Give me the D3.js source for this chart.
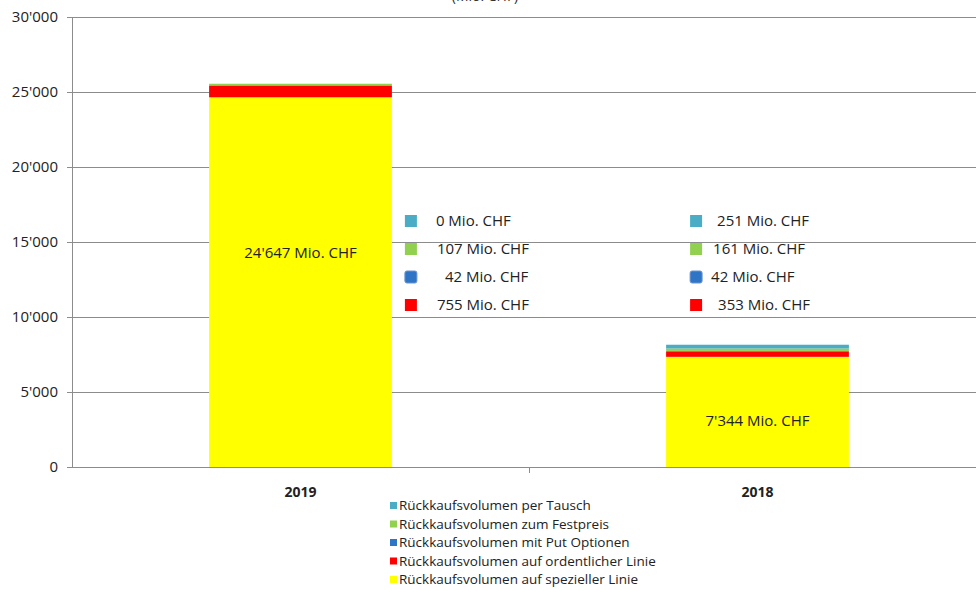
<!DOCTYPE html>
<html>
<head>
<meta charset="utf-8">
<script src="https://cdn.jsdelivr.net/npm/d3@7"></script>
<style>
  body { margin: 0; background: #fff; }
  text { font-family: "Open Sans", "DejaVu Sans", sans-serif; }
</style>
</head>
<body>
<div id="chart"></div>
<script>
// Data
const years = ['2019', '2018']
const seriesNames = [
  'Rückkaufsvolumen auf spezieller Linie',
  'Rückkaufsvolumen auf ordentlicher Linie',
  'Rückkaufsvolumen mit Put Optionen',
  'Rückkaufsvolumen zum Festpreis',
  'Rückkaufsvolumen per Tausch'
]
const spezielleLinie = [24647, 7344]
const ordentlicheLinie = [755, 353]
const putOptionen = [42, 42]
const festpreis = [107, 161]
const tausch = [0, 251]
const yTicks = [0, 5000, 10000, 15000, 20000, 25000, 30000]

const colors = ['#ffff00', '#ff0000', '#2e75c6', '#92d050', '#4bacc6']

// Dimensions
let dimensions = {
  width: 976,
  height: 590,
  margin: { top: 17, bottom: 123, left: 72, right: -10 }
}
dimensions.ctrWidth = dimensions.width - dimensions.margin.left - dimensions.margin.right
dimensions.ctrHeight = dimensions.height - dimensions.margin.top - dimensions.margin.bottom

const svg = d3.select('#chart')
  .append('svg')
  .attr('width', dimensions.width)
  .attr('height', dimensions.height)

// title, cut by the top edge as in the source
svg.append('text')
  .attr('x', 485).attr('y', 1)
  .attr('text-anchor', 'middle')
  .style('font-size', '14px')
  .attr('fill', '#333')
  .text('(Mio. CHF)')

const ctr = svg.append('g')
  .attr('transform', `translate(${dimensions.margin.left}, ${dimensions.margin.top})`)

const locale = d3.formatLocale({ decimal: '.', thousands: "'", grouping: [3], currency: ['', ''] })
const fmt = locale.format(',d')

// Scales
const xScale = d3.scaleBand()
  .domain(years)
  .range([0, dimensions.ctrWidth])
  .paddingInner(0.6)
  .paddingOuter(0.3)

const yScale = d3.scaleLinear()
  .domain([0, 30000])
  .range([dimensions.ctrHeight, 0])

// Gridlines
ctr.append('g')
  .selectAll('line')
  .data(yTicks.slice(1))
  .join('line')
  .attr('x1', -5)
  .attr('x2', dimensions.width)
  .attr('y1', d => yScale(d) + 0.5)
  .attr('y2', d => yScale(d) + 0.5)
  .attr('stroke', '#8c8c8c')

// y axis
const yAxis = d3.axisLeft(yScale).tickValues(yTicks).tickFormat(fmt).tickSize(5).tickPadding(9)
const yAxisG = ctr.append('g').call(yAxis)
yAxisG.select('.domain').attr('stroke', '#8c8c8c')
yAxisG.selectAll('.tick line').attr('stroke', '#8c8c8c')
yAxisG.selectAll('.tick text').style('font-size', '15px').attr('fill', '#222')

// x axis line + ticks
const xG = ctr.append('g').attr('transform', `translate(0, ${dimensions.ctrHeight})`)
xG.append('line')
  .attr('x1', 0).attr('x2', dimensions.width)
  .attr('y1', 0.5).attr('y2', 0.5)
  .attr('stroke', '#8c8c8c')
const step = xScale.step()
xG.selectAll('.sep')
  .data(years.slice(1))
  .join('line')
  .attr('class', 'sep')
  .attr('x1', d => xScale(d) - step * xScale.paddingInner() / 2 + 0.5)
  .attr('x2', d => xScale(d) - step * xScale.paddingInner() / 2 + 0.5)
  .attr('y1', 0).attr('y2', 6)
  .attr('stroke', '#8c8c8c')
xG.selectAll('.lbl')
  .data(years)
  .join('text')
  .attr('class', 'lbl')
  .attr('x', d => xScale(d) + xScale.bandwidth() / 2)
  .attr('y', 30)
  .attr('text-anchor', 'middle')
  .style('font-size', '14px')
  .style('font-weight', 'bold')
  .attr('fill', '#222')
  .text(d => d)

// Stack
const table = years.map((y, i) => ({
  year: y,
  s0: spezielleLinie[i],
  s1: ordentlicheLinie[i],
  s2: putOptionen[i],
  s3: festpreis[i],
  s4: tausch[i]
}))
const stack = d3.stack().keys(['s0', 's1', 's2', 's3', 's4'])(table)

ctr.selectAll('g.layer')
  .data(stack)
  .join('g')
  .attr('class', 'layer')
  .attr('fill', (d, i) => colors[i])
  .selectAll('rect')
  .data(d => d)
  .join('rect')
  .attr('x', d => xScale(d.data.year))
  .attr('width', xScale.bandwidth())
  .attr('y', d => yScale(d[1]))
  .attr('height', d => yScale(d[0]) - yScale(d[1]))

// Labels inside yellow segment
const innerShift = [-24, 14]
ctr.selectAll('text.inner')
  .data(table)
  .join('text')
  .attr('class', 'inner')
  .attr('x', d => xScale(d.year) + xScale.bandwidth() / 2)
  .attr('y', (d, i) => yScale(d.s0 / 2) + innerShift[i])
  .attr('text-anchor', 'middle')
  .style('font-size', '15px')
  .attr('fill', '#222')
  .text(d => fmt(d.s0) + ' Mio. CHF')

// Floating data labels for small segments
const smallSeries = [tausch, festpreis, putOptionen, ordentlicheLinie]
const smallColors = [colors[4], colors[3], colors[2], colors[1]]
const textOffsets = [[31, 32, 40, 32], [27, 23, 21, 28]]
years.forEach((y, i) => {
  const x0 = i === 0 ? xScale(y) + xScale.bandwidth() + 13 : xScale(y) + 24
  const g = ctr.append('g')
  smallSeries.forEach((s, k) => {
    const cy = 204 + k * 28
    g.append('rect')
      .attr('x', x0).attr('y', cy - 6)
      .attr('width', 12).attr('height', 12)
      .attr('rx', k === 2 ? 2 : 0)
      .attr('fill', smallColors[k])
      .attr('stroke', k === 2 ? '#6b94d0' : 'none')
    g.append('text')
      .attr('x', x0 + textOffsets[i][k])
      .attr('y', cy + 5)
      .style('font-size', '15px')
      .attr('fill', '#222')
      .text(fmt(s[i]) + ' Mio. CHF')
  })
})

// Bottom legend
const legendOrder = [4, 3, 2, 1, 0]
const legend = svg.append('g').attr('transform', 'translate(390, 502)')
legendOrder.forEach((idx, k) => {
  legend.append('rect')
    .attr('x', 0).attr('y', k * 18.5)
    .attr('width', 7).attr('height', 7)
    .attr('fill', colors[idx])
  legend.append('text')
    .attr('x', 9).attr('y', k * 18.5 + 8)
    .style('font-size', '13.5px')
    .attr('fill', '#222')
    .text(seriesNames[idx])
})
</script>
</body>
</html>
